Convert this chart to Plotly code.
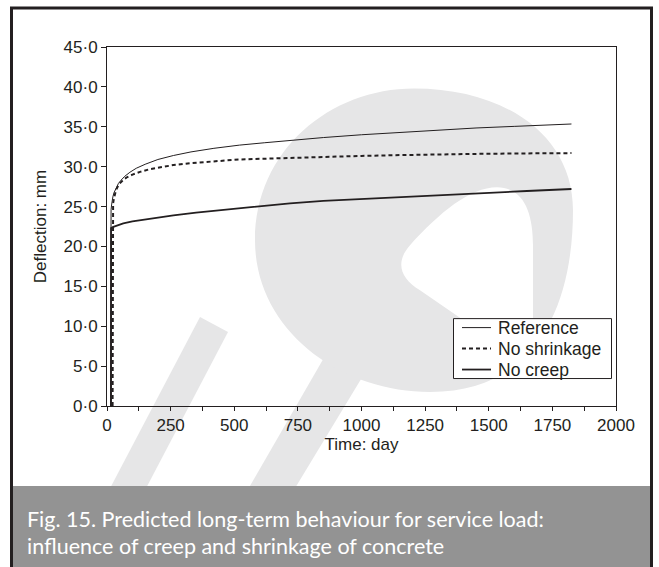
import plotly.graph_objects as go

# ---------------- data ----------------
ref_t = [14, 14, 16, 18, 20, 23, 27, 32, 38, 45, 55, 70, 90, 115, 150, 200, 261, 330, 420, 520, 620, 719,
         850, 1000, 1151, 1300, 1450, 1600, 1825]
ref_y = [0, 23.5, 24.6, 25.2, 25.7, 26.2, 26.7, 27.1, 27.5, 27.9, 28.3, 28.8, 29.3, 29.8, 30.3, 30.9, 31.4,
         31.85, 32.3, 32.7, 33.0, 33.3, 33.65, 34.0, 34.3, 34.6, 34.85, 35.05, 35.35]

nosh_t = [22, 22, 24, 27, 30, 35, 42, 50, 64, 80, 100, 130, 170, 220, 261, 330, 420, 520, 620, 719, 850,
          1000, 1151, 1300, 1450, 1600, 1825]
nosh_y = [0, 24.5, 25.4, 26.0, 26.5, 27.0, 27.5, 27.9, 28.35, 28.7, 29.0, 29.35, 29.7, 30.0, 30.2, 30.45,
          30.7, 30.9, 31.0, 31.1, 31.25, 31.35, 31.45, 31.55, 31.6, 31.65, 31.7]

nocreep_t = [16, 16, 25, 40, 64, 100, 130, 200, 261, 350, 457, 600, 719, 850, 1000, 1151, 1300, 1500,
             1650, 1825]
nocreep_y = [0, 22.3, 22.45, 22.65, 22.9, 23.15, 23.3, 23.65, 23.9, 24.25, 24.6, 25.05, 25.4, 25.7, 25.95,
             26.2, 26.45, 26.75, 26.95, 27.2]

series_names = ["Reference", "No shrinkage", "No creep"]

y_tickvals = [0, 5, 10, 15, 20, 25, 30, 35, 40, 45]
y_ticktext = ["0·0", "5·0", "10·0", "15·0", "20·0", "25·0", "30·0", "35·0", "40·0", "45·0"]
x_tickvals = [0, 125, 250, 375, 500, 625, 750, 875, 1000, 1125, 1250, 1375, 1500, 1625, 1750, 1875, 2000]
x_ticktext = ["0", "", "250", "", "500", "", "750", "", "1000", "", "1250", "", "1500", "", "1750", "", "2000"]

caption_lines = ["Fig. 15. Predicted long-term behaviour for service load:",
                 "influence of creep and shrinkage of concrete"]

# ---------------- layout geometry ----------------
FW, FH = 659, 567
L, R, T, B = 107, 616, 46.5, 406
PW, PH = R - L, B - T


def px(x):
    return (x - L) / PW


def py(y):
    return (B - y) / PH


def path(cmds):
    out = []
    for c in cmds:
        if isinstance(c, str):
            out.append(c)
        else:
            out.append(f"{px(c[0]):.5f},{py(c[1]):.5f}")
    return " ".join(out)


AXC = "#231f20"
FONT = "Liberation Sans, Arial, sans-serif"
WM = "#e6e6e7"

styles = [dict(color=AXC, width=1),
          dict(color=AXC, width=2, dash="4px,3px"),
          dict(color=AXC, width=1.8)]

fig = go.Figure()
for t, y, name, st in zip([ref_t, nosh_t, nocreep_t], [ref_y, nosh_y, nocreep_y], series_names, styles):
    fig.add_trace(go.Scatter(x=t, y=y, mode="lines", name=name, line=st, showlegend=False))

shapes = []
# watermark: left slash
shapes.append(dict(type="path", xref="paper", yref="paper", layer="below",
                   path=path(["M", (200, 317), "L", (228, 332), "L", (140, 500), "L", (104, 500), "Z"]),
                   fillcolor=WM, line=dict(width=0)))
# watermark: tail of the big glyph
shapes.append(dict(type="path", xref="paper", yref="paper", layer="below",
                   path=path(["M", (242, 500), "L", (288, 500), "L", (398, 318), "L", (340, 330), "Z"]),
                   fillcolor=WM, line=dict(width=0)))
# watermark: big round head with an off-centre hole
head = path(["M", (255, 240),
             "C", (255, 150), (330, 88), (414, 88),
             "C", (505, 88), (573, 135), (573, 210),
             "C", (573, 300), (540, 392), (430, 392),
             "C", (340, 392), (255, 330), (255, 240), "Z",
             "M", (497, 187),
             "C", (470, 187), (440, 212), (410, 245),
             "C", (395, 262), (400, 278), (420, 290),
             "L", (485, 335),
             "C", (505, 350), (533, 345), (533, 320),
             "L", (533, 245),
             "C", (533, 215), (525, 187), (497, 187), "Z"])
shapes.append(dict(type="path", xref="paper", yref="paper", layer="below",
                   path=head, fillcolor=WM, fillrule="evenodd", line=dict(width=0)))
# caption band
shapes.append(dict(type="rect", xref="paper", yref="paper", layer="below",
                   x0=px(11), x1=px(652), y0=py(486), y1=py(570),
                   fillcolor="#939393", line=dict(width=0)))
# outer frame
shapes.append(dict(type="rect", xref="paper", yref="paper", layer="above",
                   x0=px(11.5), x1=px(651.5), y0=py(7.5), y1=py(575),
                   fillcolor="rgba(0,0,0,0)", line=dict(color=AXC, width=3)))

# legend box (drawn by hand to match the reference spacing)
shapes.append(dict(type="rect", xref="paper", yref="paper", layer="above",
                   x0=px(453.5), x1=px(611.5), y0=py(318.5), y1=py(378.5),
                   fillcolor="white", line=dict(color=AXC, width=1)))
legend_rows = [327.5, 348.5, 369.5]
annotations = []
for row, name, st in zip(legend_rows, series_names, styles):
    ln = dict(color=st["color"], width=st["width"])
    if "dash" in st:
        ln["dash"] = st["dash"]
    shapes.append(dict(type="line", xref="paper", yref="paper", layer="above",
                       x0=px(462), x1=px(491), y0=py(row), y1=py(row), line=ln))
    annotations.append(dict(text=name, xref="paper", yref="paper", x=px(496), y=py(row),
                            xanchor="left", yanchor="middle", showarrow=False,
                            font=dict(family=FONT, size=17.5, color=AXC)))

for i, (line, ypx) in enumerate(zip(caption_lines, [519, 546])):
    annotations.append(dict(text=line, xref="paper", yref="paper",
                            x=px(25), y=py(ypx), xanchor="left", yanchor="middle",
                            align="left", showarrow=False,
                            font=dict(family="Lato, Open Sans, sans-serif", size=21.5, color="white")))

fig.update_layout(
    width=FW, height=FH,
    margin=dict(l=L, r=FW - R, t=T, b=FH - B, pad=0),
    paper_bgcolor="white", plot_bgcolor="rgba(0,0,0,0)",
    font=dict(family=FONT, size=17, color=AXC),
    shapes=shapes, annotations=annotations,
    showlegend=False,
)
fig.update_xaxes(range=[0, 2000], tickvals=x_tickvals, ticktext=x_ticktext,
                 ticks="outside", ticklen=4, tickcolor=AXC, tickwidth=1,
                 showline=True, linecolor=AXC, linewidth=1, mirror=True,
                 showgrid=False, zeroline=False,
                 title=dict(text="Time: day", font=dict(family=FONT, size=17), standoff=0),
                 tickfont=dict(family=FONT, size=17, color=AXC))
fig.update_yaxes(range=[0, 45], tickvals=y_tickvals, ticktext=y_ticktext,
                 ticks="outside", ticklen=5, tickcolor=AXC, tickwidth=1,
                 showline=True, linecolor=AXC, linewidth=1, mirror=True,
                 showgrid=False, zeroline=False,
                 title=dict(text="Deflection: mm", font=dict(family=FONT, size=17), standoff=12),
                 tickfont=dict(family=FONT, size=17, color=AXC))

fig.write_html("out.html")
